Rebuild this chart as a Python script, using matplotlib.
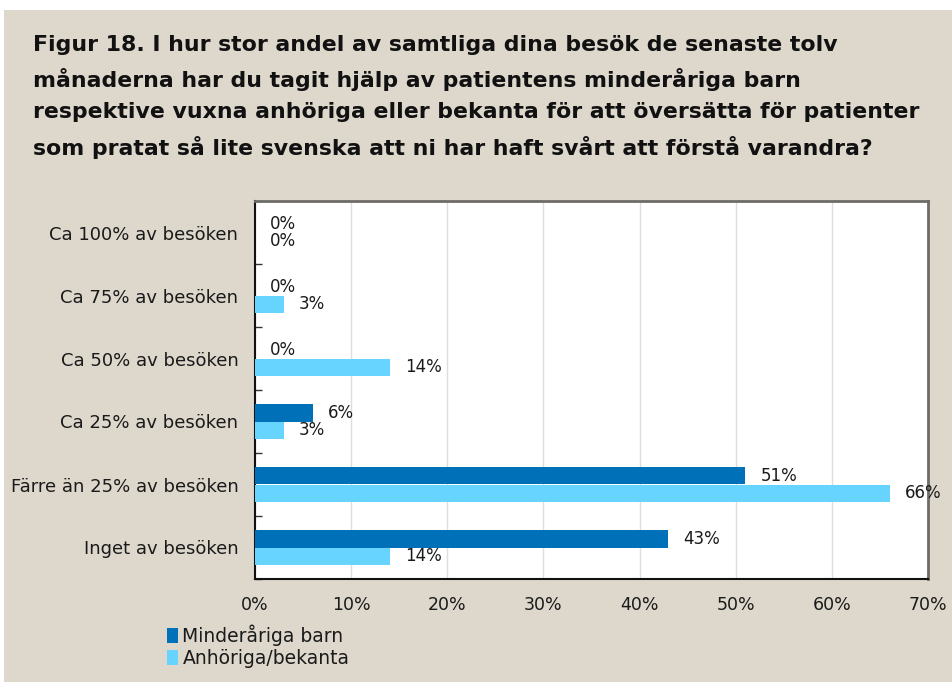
#!/usr/bin/env python3
"""Figur 18 - horizontal grouped bar chart (recreated)."""

import matplotlib

matplotlib.use("Agg")
import matplotlib.pyplot as plt
from matplotlib.patches import Rectangle
import numpy as np

categories = [
    "Ca 100% av besöken",
    "Ca 75% av besöken",
    "Ca 50% av besöken",
    "Ca 25% av besöken",
    "Färre än 25% av besöken",
    "Inget av besöken",
]
series_names = ["Minderåriga barn", "Anhöriga/bekanta"]
minderariga = [0, 0, 0, 6, 51, 43]
anhoriga = [0, 3, 14, 3, 66, 14]
x_ticks = [0, 10, 20, 30, 40, 50, 60, 70]

title = (
    "Figur 18. I hur stor andel av samtliga dina besök de senaste tolv\n"
    "månaderna har du tagit hjälp av patientens minderåriga barn\n"
    "respektive vuxna anhöriga eller bekanta för att översätta för patienter\n"
    "som pratat så lite svenska att ni har haft svårt att förstå varandra?"
)

BG = "#DDD7CC"
DARK = "#0070B8"
LIGHT = "#66D4FF"
TXT = "#1a1a1a"

plt.rcParams["font.family"] = ["DejaVu Sans"]

W, H = 953, 682
fig = plt.figure(figsize=(W / 100, H / 100), dpi=100, facecolor="white")
fig.patches.append(
    Rectangle((4 / W, 0), 1, 1 - 10 / H, transform=fig.transFigure,
              facecolor=BG, edgecolor="none", zorder=-10)
)

ax = fig.add_axes([255 / W, 1 - 579 / H, (928 - 255) / W, (579 - 201) / H])
ax.set_facecolor("white")

n = len(categories)
y = np.arange(n)
h = 0.285
ax.barh(y - h / 2, minderariga, height=h, color=DARK, label=series_names[0], zorder=3)
ax.barh(y + h / 2, anhoriga, height=h, color=LIGHT, label=series_names[1], zorder=3)

for yi, v in zip(y, minderariga):
    ax.annotate(f"{v}%", (v, yi - h / 2), xytext=(11, 0), textcoords="offset points",
                va="center", ha="left", fontsize=12, color=TXT)
for yi, v in zip(y, anhoriga):
    ax.annotate(f"{v}%", (v, yi + h / 2), xytext=(11, 0), textcoords="offset points",
                va="center", ha="left", fontsize=12, color=TXT, annotation_clip=False)

ax.set_ylim(n - 0.5, -0.5)
ax.set_xlim(0, 70)
ax.set_xticks(x_ticks)
ax.set_xticklabels([f"{t}%" for t in x_ticks], fontsize=12.5, color=TXT)
ax.set_yticks(y)
ax.set_yticklabels(categories, fontsize=13, color=TXT)
ax.set_yticks(np.arange(n + 1) - 0.5, minor=True)
ax.tick_params(axis="y", which="major", length=0, pad=12)
ax.tick_params(axis="y", which="minor", direction="in", length=5, width=1, color="#333333")
ax.tick_params(axis="x", length=0, pad=12)

ax.grid(axis="x", color="#E2DED6", linewidth=1.0, zorder=0)
ax.set_axisbelow(True)
for side in ["top", "right"]:
    ax.spines[side].set_color("#6E6C67")
    ax.spines[side].set_linewidth(2)
for side in ["left", "bottom"]:
    ax.spines[side].set_color("#111111")
    ax.spines[side].set_linewidth(1.5)

fig.text(33 / W, 1 - 35 / H, title, ha="left", va="top", fontsize=15.8,
         fontweight="bold", color="#111111", linespacing=1.7)

fig.legend(loc="upper left", bbox_to_anchor=(158 / W, 1 - 615 / H), frameon=False,
           fontsize=13.5, handlelength=0.55, handleheight=0.85, handletextpad=0.25,
           labelspacing=0.15, borderpad=0, labelcolor=TXT)

fig.savefig("out.png", dpi=100, facecolor=fig.get_facecolor())
